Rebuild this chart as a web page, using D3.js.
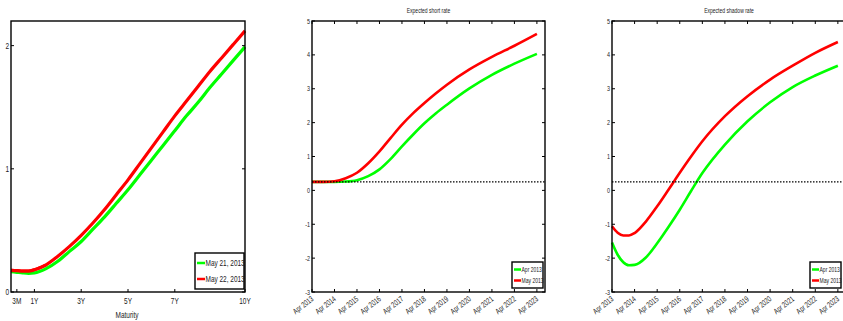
<!DOCTYPE html>
<html><head><meta charset="utf-8">
<script src="https://cdn.jsdelivr.net/npm/d3@7"></script>
<style>
body{margin:0;background:#fff;}
svg{display:block;font-family:"Liberation Sans","Arial",sans-serif;}
</style></head><body>
<svg id="c" width="843" height="321"></svg>
<script>
// ---- Panel 1: yield curves ----
const maturities = [0,0.25,0.5,0.75,1,1.5,2,2.5,3,3.5,4,4.5,5,5.5,6,6.5,7,7.5,8,8.5,9,9.5,10];
const may21 = [0.165,0.16,0.155,0.152,0.155,0.19,0.25,0.33,0.41,0.51,0.61,0.72,0.83,0.95,1.07,1.19,1.31,1.43,1.54,1.66,1.77,1.88,1.99];
const may22 = [0.175,0.173,0.17,0.17,0.18,0.22,0.29,0.37,0.46,0.56,0.67,0.79,0.91,1.04,1.17,1.30,1.43,1.55,1.67,1.79,1.90,2.01,2.12];
const matTickVals = [0.25,1,3,5,7,10];
const matTickLabels = ["3M","1Y","3Y","5Y","7Y","10Y"];
const p1YTicks = [0,1,2];
const p1Legend = ["May 21, 2013","May 22, 2013"];

// ---- Panels 2/3: years since Apr 2013 ----
const horizon = [0,0.5,1,1.5,2,2.5,3,3.5,4,4.5,5,5.5,6,7,8,9,10];
const shortApr = [0.25,0.25,0.25,0.26,0.30,0.42,0.62,0.93,1.30,1.65,1.98,2.27,2.53,3.01,3.41,3.74,4.03];
const shortMay = [0.25,0.25,0.27,0.36,0.52,0.80,1.15,1.55,1.94,2.28,2.58,2.86,3.12,3.57,3.94,4.27,4.62];
const shadowHorizon = [0,0.25,0.5,0.75,1,1.5,2,2.5,3,3.5,4,5,6,7,8,9,10];
const shadowApr = [-1.54,-1.90,-2.12,-2.21,-2.20,-1.98,-1.56,-1.08,-0.57,-0.02,0.51,1.35,2.04,2.60,3.05,3.39,3.68];
const shadowMay = [-1.06,-1.25,-1.33,-1.33,-1.26,-0.92,-0.47,0.02,0.52,1.00,1.45,2.19,2.78,3.27,3.68,4.06,4.38];
const dateTickVals = [0,1,2,3,4,5,6,7,8,9,10];
const dateTickLabels = ["Apr 2013","Apr 2014","Apr 2015","Apr 2016","Apr 2017","Apr 2018","Apr 2019","Apr 2020","Apr 2021","Apr 2022","Apr 2023"];
const rateYTicks = [-3,-2,-1,0,1,2,3,4,5];
const zeroBound = 0.25;
const p23Legend = ["Apr 2013","May 2013"];
const titles = ["Expected short rate","Expected shadow rate"];
const xLabel1 = "Maturity";

const GREEN = "#00ff00", RED = "#ff0000";
const SX = 0.72; // condensed text
const svg = d3.select("#c");

function txt(g, x, y, s, fs, anchor, rot){
  return g.append("text")
    .attr("transform",`translate(${x},${y})${rot?` rotate(${rot})`:""} scale(${SX},1)`)
    .attr("text-anchor",anchor||"start").attr("font-size",fs).attr("fill","#222").text(s);
}

function frame(g, x, y, opts){
  const [x0,x1] = x.range(), [y0,y1] = y.range();
  const tl = 3;
  opts.yTicks.forEach(v=>{
    g.append("line").attr("x1",x0).attr("x2",x0+tl).attr("y1",y(v)).attr("y2",y(v)).attr("stroke","#000");
    g.append("line").attr("x1",x1).attr("x2",x1-tl).attr("y1",y(v)).attr("y2",y(v)).attr("stroke","#000");
  });
  opts.xTicks.forEach(v=>{
    g.append("line").attr("x1",x(v)).attr("x2",x(v)).attr("y1",y0).attr("y2",y0-tl).attr("stroke","#000");
    if(opts.topTicks) g.append("line").attr("x1",x(v)).attr("x2",x(v)).attr("y1",y1).attr("y2",y1+tl).attr("stroke","#000");
  });
  g.append("rect").attr("x",x0).attr("y",y1).attr("width",x1-x0).attr("height",y0-y1)
    .attr("fill","none").attr("stroke","#000").attr("stroke-width",1.4);
}

function legend(g, x, y, w, h, labels, fs, lw){
  g.append("rect").attr("x",x).attr("y",y).attr("width",w).attr("height",h)
    .attr("fill","#fff").attr("stroke","#000").attr("stroke-width",1.4);
  [GREEN,RED].forEach((c,i)=>{
    const yy = y + h*(i+0.5)/2 + (i===0?1:-1);
    g.append("line").attr("x1",x+2).attr("x2",x+2+lw).attr("y1",yy).attr("y2",yy)
      .attr("stroke",c).attr("stroke-width",2.5);
    txt(g, x+2.5+lw, yy+fs*0.35, labels[i], fs, "start");
  });
}

// ---------- Panel 1 ----------
{
  const g = svg.append("g");
  const x = d3.scaleLinear().domain([0,10]).range([11,245]);
  const y = d3.scaleLinear().domain([0,2.2]).range([292,21]);
  const line = d3.line().x(d=>x(d[0])).y(d=>y(d[1])).curve(d3.curveMonotoneX);
  g.append("path").attr("d",line(maturities.map((m,i)=>[m,may22[i]]))).attr("fill","none").attr("stroke",RED).attr("stroke-width",3.2);
  g.append("path").attr("d",line(maturities.map((m,i)=>[m,may21[i]]))).attr("fill","none").attr("stroke",GREEN).attr("stroke-width",3.2);
  g.append("path").attr("d",line(maturities.map((m,i)=>[m,may22[i]]).slice(0,6))).attr("fill","none").attr("stroke",RED).attr("stroke-width",3.2);
  frame(g,x,y,{yTicks:p1YTicks,xTicks:matTickVals,topTicks:false});
  p1YTicks.forEach(v=>txt(g,9,y(v)+3,v,9,"end"));
  matTickVals.forEach((v,i)=>txt(g,x(v),304,matTickLabels[i],9,"middle"));
  txt(g,127,318,xLabel1,9,"middle");
  legend(g,195,253,49,36,p1Legend,9,8);
}

// ---------- Panels 2 & 3 ----------
function ratePanel(left, right, title, hz, a, b){
  const g = svg.append("g");
  const x = d3.scaleLinear().domain([0,10.36]).range([left,right]);
  const y = d3.scaleLinear().domain([-3,5]).range([292,21]);
  const line = d3.line().x(d=>x(d[0])).y(d=>y(d[1])).curve(d3.curveMonotoneX);
  g.append("path").attr("d",line(hz.map((t,i)=>[t,a[i]]))).attr("fill","none").attr("stroke",GREEN).attr("stroke-width",2.6);
  g.append("path").attr("d",line(hz.map((t,i)=>[t,b[i]]))).attr("fill","none").attr("stroke",RED).attr("stroke-width",2.6);
  g.append("line").attr("x1",left).attr("x2",right).attr("y1",y(zeroBound)).attr("y2",y(zeroBound))
    .attr("stroke","#000").attr("stroke-width",1.4).attr("stroke-dasharray","1.5,1.5");
  frame(g,x,y,{yTicks:rateYTicks,xTicks:dateTickVals,topTicks:true});
  rateYTicks.forEach(v=>txt(g,left-2,y(v)+2.5,v,7.5,"end"));
  dateTickVals.forEach((v,i)=>txt(g,x(v)+2,300,dateTickLabels[i],8,"end",-38));
  txt(g,(left+right)/2,13,title,7,"middle");
  legend(g,Math.min(right,843)-33,262,31,26,p23Legend,7,7);
}
ratePanel(312,545,titles[0],horizon,shortApr,shortMay);
ratePanel(612,846,titles[1],shadowHorizon,shadowApr,shadowMay);
</script>
</body></html>
